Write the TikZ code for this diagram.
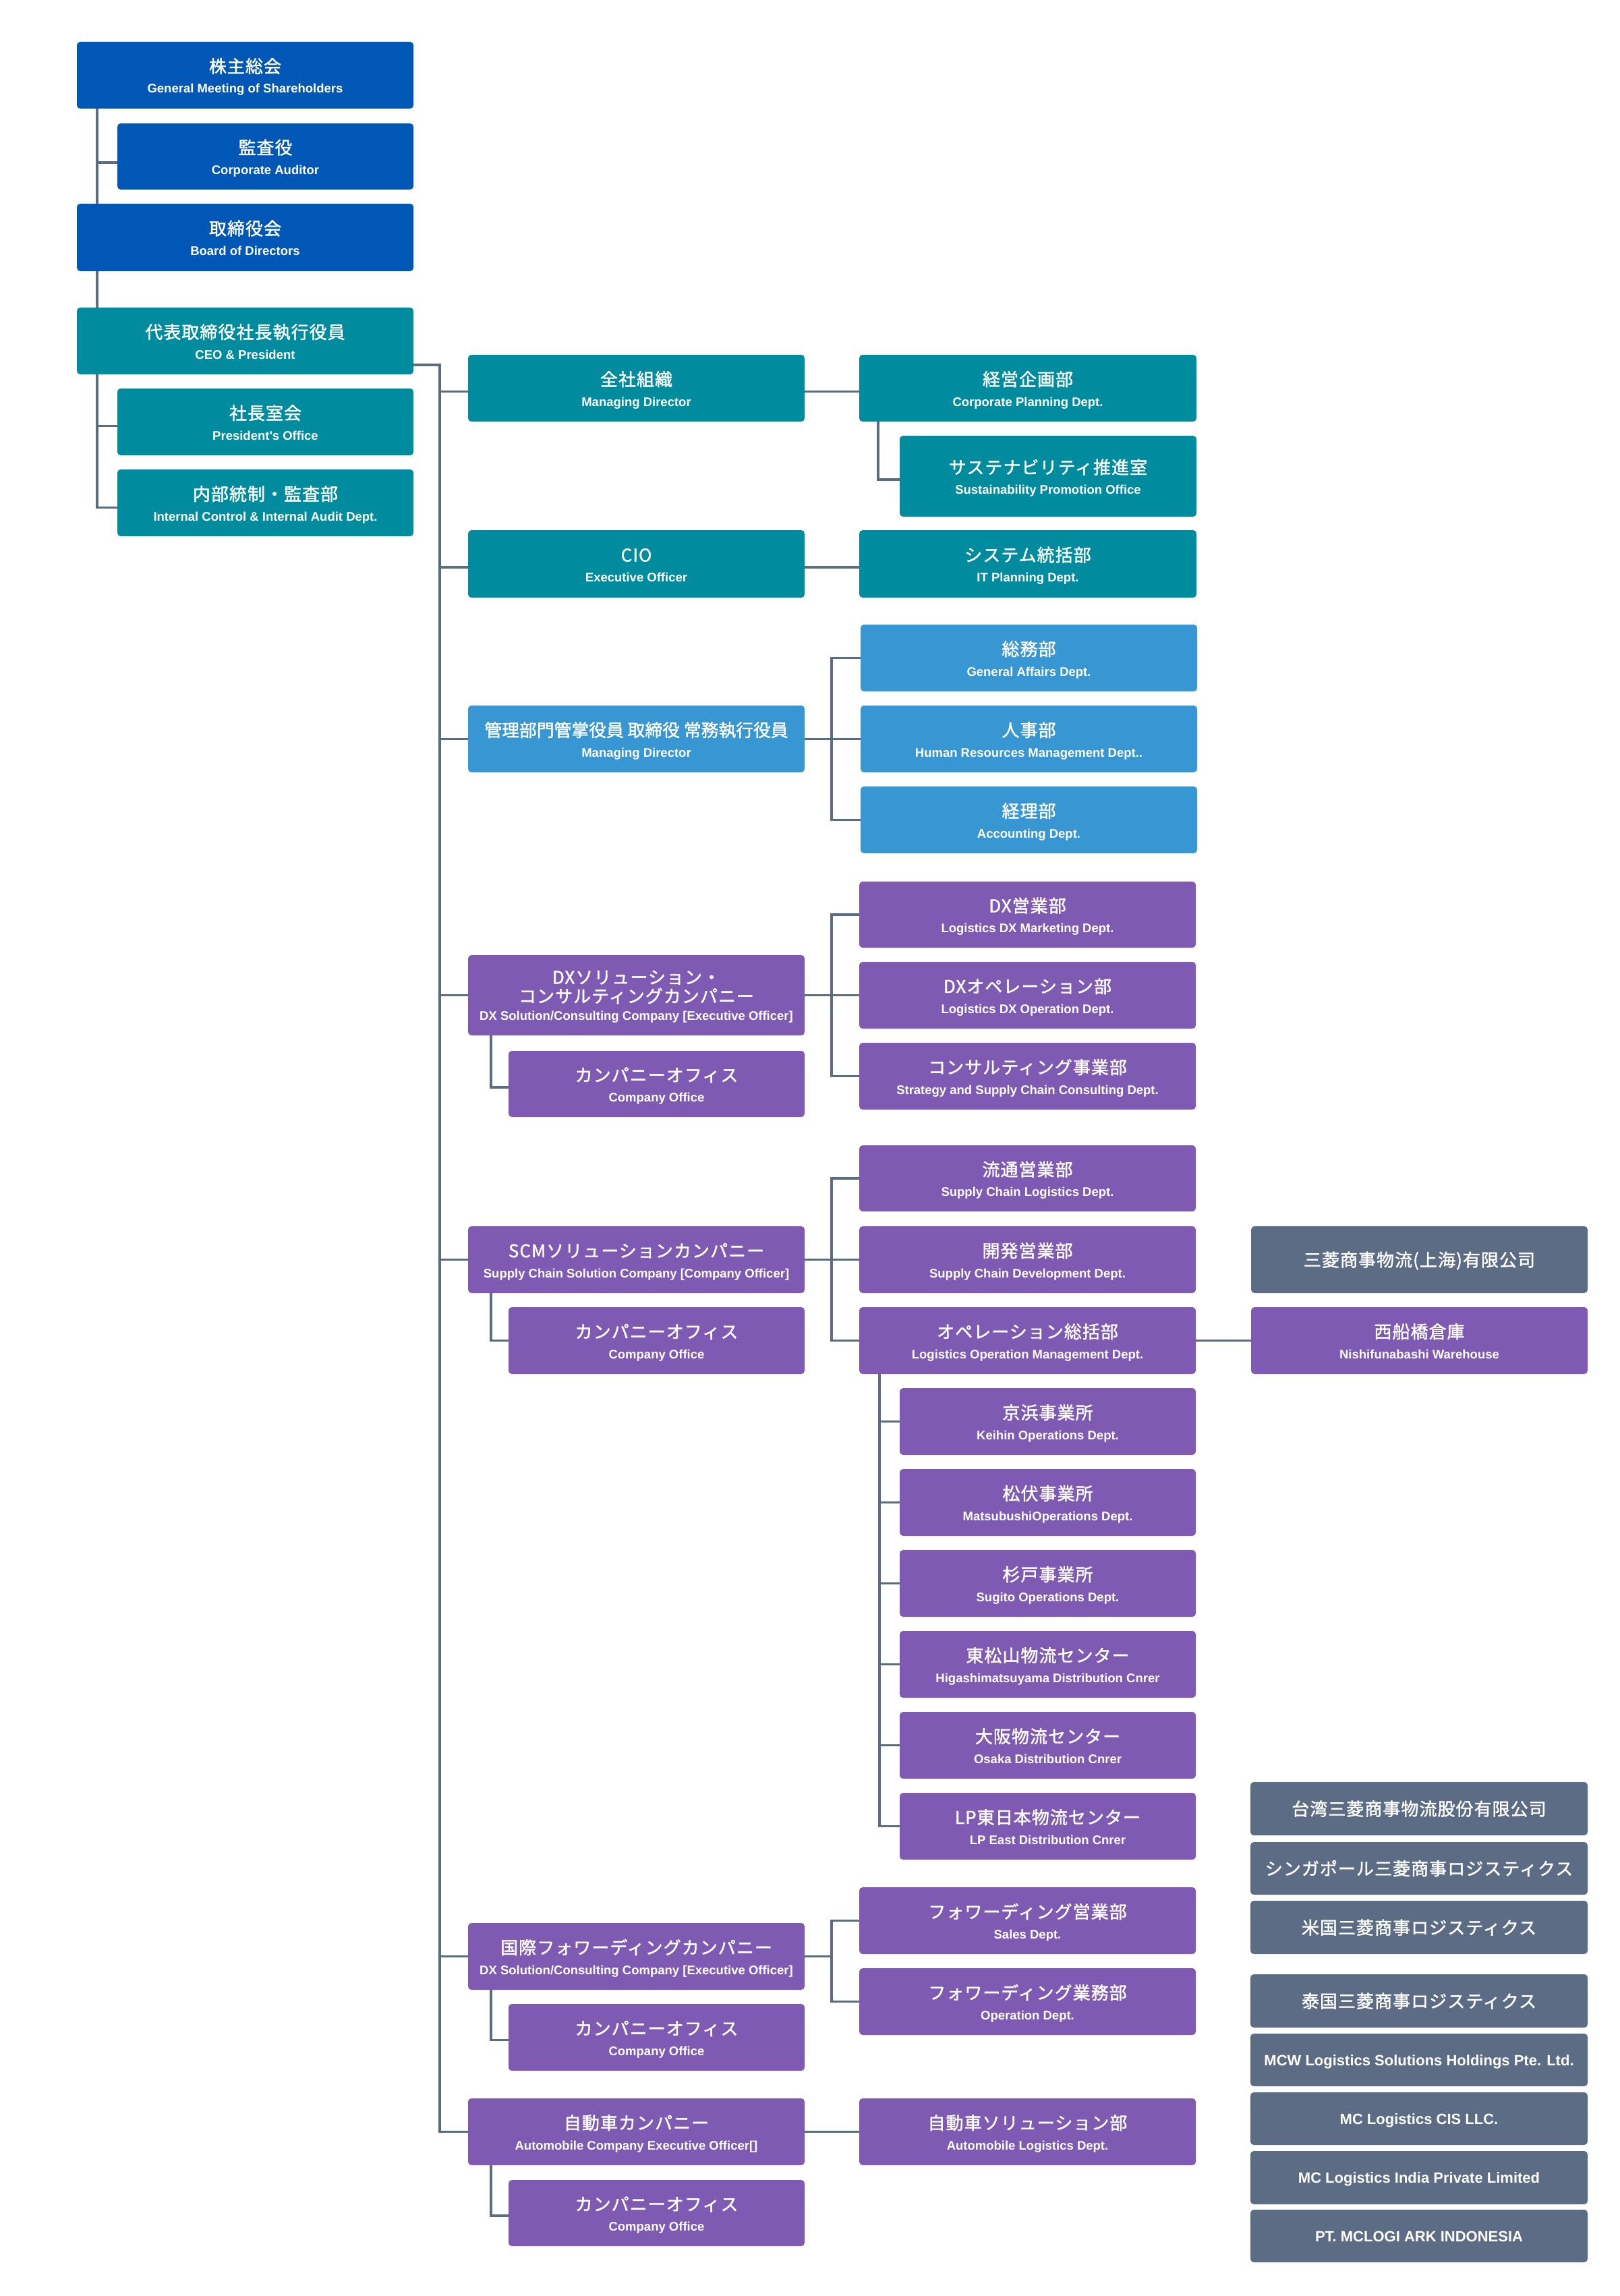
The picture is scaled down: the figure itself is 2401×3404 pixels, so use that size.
\documentclass[tikz,border=0pt]{standalone}
\usepackage{fontspec}
\setmainfont{Liberation Sans}
\newfontfamily\jpf[LetterSpace=4,FakeBold=1.5]{Noto Sans CJK JP}
\newfontfamily\jpz[FakeBold=1.5]{Noto Sans CJK JP}
\newfontfamily\enf{Liberation Sans}
\usetikzlibrary{backgrounds}
\definecolor{cBlue}{HTML}{0057B5}
\definecolor{cTeal}{HTML}{008C9E}
\definecolor{cLBlue}{HTML}{3896D3}
\definecolor{cPurple}{HTML}{7F5AB3}
\definecolor{cGray}{HTML}{5B6C84}
\definecolor{cLine}{HTML}{5B6B80}
\newcommand{\JP}{\jpf\fontsize{26}{30}\selectfont}
\newcommand{\JZ}{\jpz\fontsize{25.8}{30}\selectfont}
\newcommand{\EN}{\enf\bfseries\fontsize{18.5}{30}\selectfont}
\newcommand{\GE}{\enf\bfseries\fontsize{22}{30}\selectfont}
\newcommand{\two}[2]{{\JP\rule{0pt}{28pt}#1}\\{\EN #2\rule[-5pt]{0pt}{5pt}}}
\newcommand{\twoz}[2]{{\JZ\rule{0pt}{28pt}#1}\\{\EN #2\rule[-5pt]{0pt}{5pt}}}
\newcommand{\three}[3]{{\JP\rule{0pt}{25pt}#1}\\[-2pt]{\JP #2}\\[-4pt]{\EN #3\rule[-5pt]{0pt}{5pt}}}
\tikzset{
  box/.style={rounded corners=5pt, inner sep=0pt, outer sep=0pt, anchor=north west,
    text=white, align=center, font=\fontsize{26}{30}\selectfont},
  bl/.style={box, fill=cBlue},
  te/.style={box, fill=cTeal},
  lb/.style={box, fill=cLBlue},
  pu/.style={box, fill=cPurple},
  gr/.style={box, fill=cGray},
  grj/.style={gr, text height=22pt, text depth=2pt},
  gre/.style={gr, text height=16pt, text depth=0pt},
  sz/.style 2 args={minimum width=#1pt, minimum height=#2pt},
  conn/.style={draw=cLine, line width=3.5pt, line cap=rect}
}
\begin{document}
\begin{tikzpicture}[x=1pt,y=-1pt]
\useasboundingbox (0,0) rectangle (2401,3404);
% top-left column
\node[bl,sz={499}{99}] (gm) at (114,62) {\two{株主総会}{General Meeting of Shareholders}};
\node[bl,sz={439}{98}] (aud) at (174,183) {\two{監査役}{Corporate Auditor}};
\node[bl,sz={499}{100}] (bod) at (114,302) {\two{取締役会}{Board of Directors}};
\node[te,sz={499}{99}] (ceo) at (114,456) {\two{代表取締役社長執行役員}{CEO \& President}};
\node[te,sz={439}{99}] (pres) at (174,576) {\two{社長室会}{President's Office}};
\node[te,sz={439}{99}] (ica) at (174,696) {\two{内部統制・監査部}{Internal Control \& Internal Audit Dept.}};
% teal group
\node[te,sz={499}{99}] (zensha) at (694,526) {\two{全社組織}{Managing Director}};
\node[te,sz={500}{99}] (keiei) at (1274,526) {\two{経営企画部}{Corporate Planning Dept.}};
\node[te,sz={440}{120}] (sust) at (1334,646) {\two{サステナビリティ推進室}{Sustainability Promotion Office}};
\node[te,sz={499}{100}] (cio) at (694,786) {\two{CIO}{Executive Officer}};
\node[te,sz={500}{100}] (sys) at (1274,786) {\two{システム統括部}{IT Planning Dept.}};
% light blue group
\node[lb,sz={499}{99}] (kanri) at (694,1046) {\twoz{管理部門管掌役員 取締役 常務執行役員}{Managing Director}};
\node[lb,sz={499}{99}] (somu) at (1276,926) {\two{総務部}{General Affairs Dept.}};
\node[lb,sz={499}{99}] (jinji) at (1276,1046) {\two{人事部}{Human Resources Management Dept..}};
\node[lb,sz={499}{99}] (keiri) at (1276,1166) {\two{経理部}{Accounting Dept.}};
% DX company
\node[pu,sz={499}{119}] (dxco) at (694,1416) {\three{DXソリューション・}{コンサルティングカンパニー}{DX Solution/Consulting Company [Executive Officer]}};
\node[pu,sz={439}{98}] (dxoff) at (754,1558) {\two{カンパニーオフィス}{Company Office}};
\node[pu,sz={499}{98}] (dxeig) at (1274,1307) {\two{DX営業部}{Logistics DX Marketing Dept.}};
\node[pu,sz={499}{99}] (dxope) at (1274,1426) {\two{DXオペレーション部}{Logistics DX Operation Dept.}};
\node[pu,sz={499}{99}] (consul) at (1274,1546) {\two{コンサルティング事業部}{Strategy and Supply Chain Consulting Dept.}};
% SCM company
\node[pu,sz={499}{99}] (scm) at (694,1818) {\two{SCMソリューションカンパニー}{Supply Chain Solution Company [Company Officer]}};
\node[pu,sz={439}{99}] (scmoff) at (754,1938) {\two{カンパニーオフィス}{Company Office}};
\node[pu,sz={499}{98}] (ryutsu) at (1274,1698) {\two{流通営業部}{Supply Chain Logistics Dept.}};
\node[pu,sz={499}{99}] (kaihatsu) at (1274,1818) {\two{開発営業部}{Supply Chain Development Dept.}};
\node[pu,sz={499}{99}] (opsou) at (1274,1938) {\two{オペレーション総括部}{Logistics Operation Management Dept.}};
\node[pu,sz={439}{99}] (keihin) at (1334,2058) {\two{京浜事業所}{Keihin Operations Dept.}};
\node[pu,sz={439}{99}] (matsu) at (1334,2178) {\two{松伏事業所}{MatsubushiOperations Dept.}};
\node[pu,sz={439}{99}] (sugito) at (1334,2298) {\two{杉戸事業所}{Sugito Operations Dept.}};
\node[pu,sz={439}{99}] (higashi) at (1334,2418) {\two{東松山物流センター}{Higashimatsuyama Distribution Cnrer}};
\node[pu,sz={439}{99}] (osaka) at (1334,2538) {\two{大阪物流センター}{Osaka Distribution Cnrer}};
\node[pu,sz={439}{99}] (lp) at (1334,2658) {\two{LP東日本物流センター}{LP East Distribution Cnrer}};
\node[grj,sz={499}{99}] (shanghai) at (1855,1818) {\JP 三菱商事物流(上海)有限公司};
\node[pu,sz={499}{99}] (nishi) at (1855,1938) {\two{西船橋倉庫}{Nishifunabashi Warehouse}};
% forwarding company
\node[pu,sz={499}{99}] (kokusai) at (694,2851) {\two{国際フォワーディングカンパニー}{DX Solution/Consulting Company [Executive Officer]}};
\node[pu,sz={439}{99}] (kokoff) at (754,2971) {\two{カンパニーオフィス}{Company Office}};
\node[pu,sz={499}{99}] (fwsales) at (1274,2798) {\two{フォワーディング営業部}{Sales Dept.}};
\node[pu,sz={499}{99}] (fwops) at (1274,2918) {\two{フォワーディング業務部}{Operation Dept.}};
% automobile company
\node[pu,sz={499}{99}] (jido) at (694,3111) {\two{自動車カンパニー}{Automobile Company Executive Officer[]}};
\node[pu,sz={439}{98}] (jidooff) at (754,3232) {\two{カンパニーオフィス}{Company Office}};
\node[pu,sz={499}{99}] (jidosol) at (1274,3111) {\two{自動車ソリューション部}{Automobile Logistics Dept.}};
% overseas affiliates
\node[grj,sz={500}{79}] (taiwan) at (1854,2642) {\JP 台湾三菱商事物流股份有限公司};
\node[grj,sz={500}{78}] (singa) at (1854,2731) {\JP シンガポール三菱商事ロジスティクス};
\node[grj,sz={500}{79}] (us) at (1854,2818) {\JP 米国三菱商事ロジスティクス};
\node[grj,sz={500}{79}] (thai) at (1854,2927) {\JP 泰国三菱商事ロジスティクス};
\node[gre,sz={500}{78}] (mcw) at (1854,3015) {\GE MCW Logistics Solutions Holdings Pte. Ltd.};
\node[gre,sz={500}{78}] (cis) at (1854,3102) {\GE MC Logistics CIS LLC.};
\node[gre,sz={500}{79}] (india) at (1854,3189) {\GE MC Logistics India Private Limited};
\node[gre,sz={500}{78}] (pt) at (1854,3276) {\GE PT. MCLOGI ARK INDONESIA};
% connector guide coordinates
\coordinate (L1) at (144,0);
\coordinate (M) at (652,0);
\coordinate (S1) at (1302,0);
\coordinate (B) at (1233,0);
\coordinate (C) at (728,0);
\coordinate (D) at (1304,0);
\begin{pgfonlayer}{background}
\fill[white] (0,0) rectangle (2401,3404);
% left column
\draw[conn] (gm.south -| L1) -- (ceo.north -| L1);
\draw[conn] ([yshift=-9pt]aud.west -| L1) -- ([yshift=-9pt]aud.west);
\draw[conn] (ceo.south -| L1) |- ([yshift=-7pt]ica.west);
\draw[conn] ([yshift=-6pt]pres.west -| L1) -- ([yshift=-6pt]pres.west);
% main trunk
\draw[conn] ([yshift=-35.5pt]ceo.east) -| (jido.west -| M) -- (jido.west);
\draw[conn] ([yshift=-5pt]zensha.west -| M) -- ([yshift=-5pt]zensha.west);
\draw[conn] ([yshift=-5pt]cio.west -| M) -- ([yshift=-5pt]cio.west);
\draw[conn] (kanri.west -| M) -- (kanri.west);
\draw[conn] (dxco.west -| M) -- (dxco.west);
\draw[conn] (scm.west -| M) -- (scm.west);
\draw[conn] (kokusai.west -| M) -- (kokusai.west);
% teal
\draw[conn] ([yshift=-5pt]zensha.east) -- ([yshift=-5pt]keiei.west);
\draw[conn] (keiei.south -| S1) |- ([yshift=-5pt]sust.west);
\draw[conn] ([yshift=-5pt]cio.east) -- ([yshift=-5pt]sys.west);
% light blue
\draw[conn] (kanri.east) -- (jinji.west);
\draw[conn] (somu.west) -| (keiri.west -| B) -- (keiri.west);
% DX
\draw[conn] (dxco.east) -- (dxope.west);
\draw[conn] (dxeig.west) -| (consul.west -| B) -- (consul.west);
\draw[conn] (dxco.south -| C) |- ([yshift=-5pt]dxoff.west);
% SCM
\draw[conn] (scm.east) -- (kaihatsu.west);
\draw[conn] (ryutsu.west) -| (opsou.west -| B) -- (opsou.west);
\draw[conn] (scm.south -| C) |- (scmoff.west);
\draw[conn] (opsou.east) -- (nishi.west);
\draw[conn] (opsou.south -| D) |- (lp.west);
\draw[conn] (keihin.west -| D) -- (keihin.west);
\draw[conn] (matsu.west -| D) -- (matsu.west);
\draw[conn] (sugito.west -| D) -- (sugito.west);
\draw[conn] (higashi.west -| D) -- (higashi.west);
\draw[conn] (osaka.west -| D) -- (osaka.west);
% forwarding
\draw[conn] (kokusai.east) -- (kokusai.east -| B);
\draw[conn] (fwsales.west) -| (fwops.west -| B) -- (fwops.west);
\draw[conn] (kokusai.south -| C) |- ([yshift=-4pt]kokoff.west);
% automobile
\draw[conn] (jido.east) -- (jidosol.west);
\draw[conn] (jido.south -| C) |- ([yshift=-4pt]jidooff.west);
\end{pgfonlayer}
\end{tikzpicture}
\end{document}
